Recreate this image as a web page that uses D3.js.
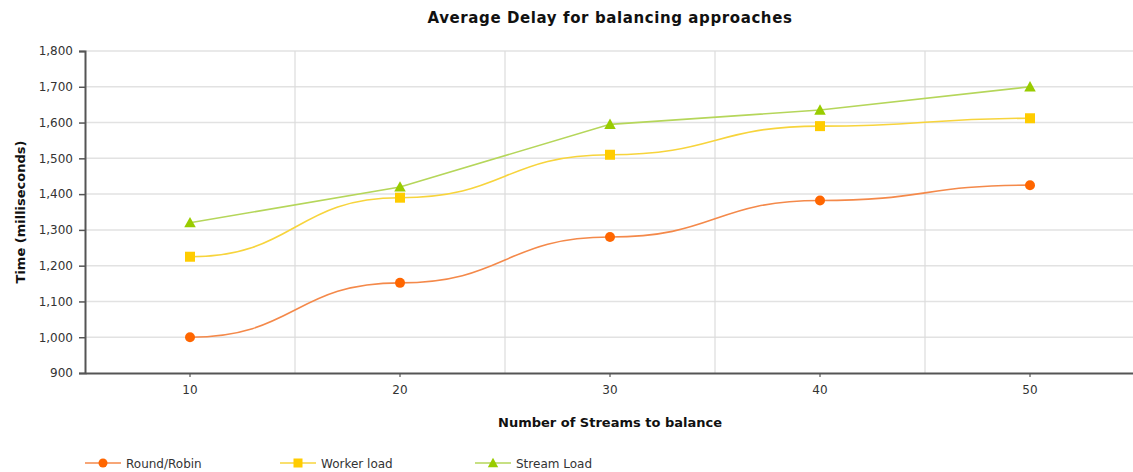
<!DOCTYPE html>
<html>
<head>
<meta charset="utf-8">
<script src="https://cdn.jsdelivr.net/npm/d3@7"></script>
<style>
  html, body { margin: 0; padding: 0; background: #fff; }
  svg { display: block; font-family: "DejaVu Sans", Verdana, sans-serif; }
</style>
</head>
<body>
<svg id="chart" width="1133" height="472"></svg>
<script>
// Stream counts on the x axis
const categories = [10, 20, 30, 40, 50];
// Average delay (ms) per balancing approach
const roundRobin = [1000, 1152, 1280, 1382, 1425];
const workerLoad = [1225, 1390, 1510, 1590, 1612];
const streamLoad = [1320, 1420, 1595, 1635, 1700];
const yTicks = [900, 1000, 1100, 1200, 1300, 1400, 1500, 1600, 1700, 1800];

const series = [
  { name: "Round/Robin", values: roundRobin, line: "#f4894a", fill: "#ff6600", shape: "circle", curve: d3.curveBumpX },
  { name: "Worker load", values: workerLoad, line: "#f7d43c", fill: "#ffcc00", shape: "square", curve: d3.curveBumpX },
  { name: "Stream Load", values: streamLoad, line: "#b5d65a", fill: "#99cc00", shape: "triangle", curve: d3.curveLinear }
];

const svg = d3.select("#chart");
const plotLeft = 85, plotRight = 1135, plotTop = 51, plotBottom = 373;

const x = d3.scaleBand().domain(categories).range([plotLeft, plotRight]).paddingInner(0).paddingOuter(0);
const y = d3.scaleLinear().domain([900, 1800]).range([plotBottom, plotTop]);
const cx = d => x(d) + x.bandwidth() / 2;

// Title
svg.append("text")
  .attr("x", 610).attr("y", 23)
  .attr("text-anchor", "middle")
  .attr("font-size", 15).attr("font-weight", "bold").attr("fill", "#111")
  .attr("letter-spacing", 0.6)
  .text("Average Delay for balancing approaches");

// Horizontal grid
svg.append("g").selectAll("line").data(yTicks.slice(1)).join("line")
  .attr("x1", plotLeft).attr("x2", 1133)
  .attr("y1", d => y(d)).attr("y2", d => y(d))
  .attr("stroke", "#e2e2e2").attr("stroke-width", 1.5);

// Vertical grid at category boundaries
svg.append("g").selectAll("line").data(categories.slice(1)).join("line")
  .attr("x1", d => x(d)).attr("x2", d => x(d))
  .attr("y1", plotTop).attr("y2", plotBottom)
  .attr("stroke", "#dcdcdc").attr("stroke-width", 1.2);

// Y axis
const yAxis = svg.append("g").attr("transform", `translate(${plotLeft},0)`)
  .call(d3.axisLeft(y).tickValues(yTicks).tickFormat(d3.format(",")).tickSize(6).tickPadding(6));
yAxis.select(".domain").attr("stroke", "#555").attr("stroke-width", 2);
yAxis.selectAll(".tick line").attr("stroke", "#555").attr("stroke-width", 1.5);
yAxis.selectAll(".tick text").attr("font-size", 12).attr("fill", "#333").attr("font-family", "DejaVu Sans, sans-serif");

// X axis
const xAxis = svg.append("g").attr("transform", `translate(0,${plotBottom})`)
  .call(d3.axisBottom(x).tickSize(4).tickPadding(8).tickSizeOuter(0));
xAxis.select(".domain").attr("stroke", "#555").attr("stroke-width", 2);
xAxis.selectAll(".tick line").attr("stroke", "#555").attr("stroke-width", 1.2);
xAxis.selectAll(".tick text").attr("font-size", 12).attr("fill", "#333").attr("font-family", "DejaVu Sans, sans-serif");

// Axis titles
svg.append("text")
  .attr("x", 610).attr("y", 427)
  .attr("text-anchor", "middle")
  .attr("font-size", 13).attr("font-weight", "bold").attr("fill", "#111")
  .text("Number of Streams to balance");

svg.append("text")
  .attr("transform", `translate(25,${(plotTop + plotBottom) / 2}) rotate(-90)`)
  .attr("text-anchor", "middle")
  .attr("font-size", 13).attr("font-weight", "bold").attr("fill", "#111")
  .text("Time (milliseconds)");

function marker(g, shape, color, size) {
  if (shape === "circle") {
    g.append("circle").attr("r", size).attr("fill", color);
  } else if (shape === "square") {
    g.append("rect").attr("x", -size).attr("y", -size).attr("width", size * 2).attr("height", size * 2).attr("fill", color);
  } else {
    const s = size * 1.15;
    g.append("path").attr("d", `M0,${-s} L${s},${s * 0.8} L${-s},${s * 0.8} Z`).attr("fill", color);
  }
}

// Lines and markers
series.forEach(s => {
  const line = d3.line().x((d, i) => cx(categories[i])).y(d => y(d)).curve(s.curve);
  svg.append("path").datum(s.values)
    .attr("d", line)
    .attr("fill", "none").attr("stroke", s.line).attr("stroke-width", 1.6);
  s.values.forEach((v, i) => {
    const g = svg.append("g").attr("transform", `translate(${cx(categories[i])},${y(v)})`);
    marker(g, s.shape, s.fill, 5);
  });
});

// Legend
const legendX = [85, 280, 475];
series.forEach((s, i) => {
  const g = svg.append("g").attr("transform", `translate(${legendX[i]},463)`);
  g.append("line").attr("x1", 0).attr("x2", 36).attr("stroke", s.line).attr("stroke-width", 1.6);
  const m = g.append("g").attr("transform", "translate(18,0)");
  marker(m, s.shape, s.fill, 4.5);
  g.append("text").attr("x", 41).attr("y", 4.5)
    .attr("font-size", 12).attr("fill", "#333")
    .text(s.name);
});
</script>
</body>
</html>
